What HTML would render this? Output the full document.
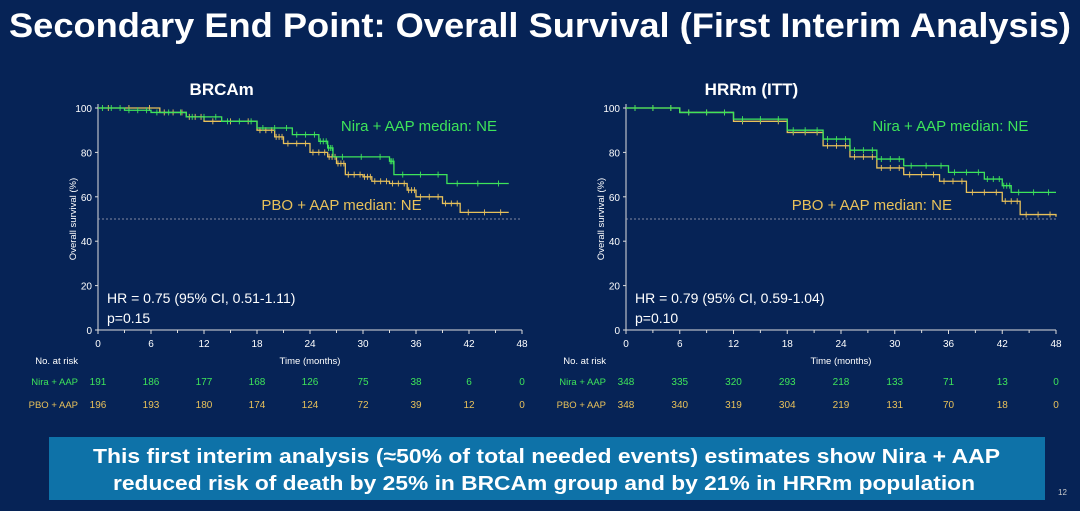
<!DOCTYPE html>
<html><head><meta charset="utf-8"><style>
body{margin:0;width:1080px;height:506px;background:#062356;overflow:hidden;font-family:"Liberation Sans",sans-serif}
</style></head><body>
<svg id="s" width="1080" height="506" xmlns="http://www.w3.org/2000/svg" font-family="Liberation Sans, sans-serif">
<text x="9" y="37" fill="#fff" font-size="34" font-weight="bold" textLength="1062" lengthAdjust="spacingAndGlyphs">Secondary End Point: Overall Survival (First Interim Analysis)</text>
<rect x="49" y="437" width="996" height="63" fill="#0e72a8"/>
<text x="93" y="463" fill="#fff" font-size="20" font-weight="bold" textLength="907" lengthAdjust="spacingAndGlyphs">This first interim analysis (≈50% of total needed events) estimates show Nira + AAP</text>
<text x="113" y="490" fill="#fff" font-size="20" font-weight="bold" textLength="862" lengthAdjust="spacingAndGlyphs">reduced risk of death by 25% in BRCAm group and by 21% in HRRm population</text>
<text x="1058" y="495" fill="#ccc" font-size="8">12</text>
<g id="g"></g>
</svg>
<script>
const G=document.getElementById('g');let h='';
function chart(x0,x1,title,hr,p,nira,pbo,rn,rp){
 const sx=m=>x0+(x1-x0)*m/48, sy=v=>330-2.22*v;
 h+=`<text x="${sx(14)}" y="95" fill="#fff" font-size="17" font-weight="bold" text-anchor="middle">${title}</text>`;
 h+=`<line x1="${x0}" y1="104" x2="${x0}" y2="330" stroke="#ddd"/><line x1="${x0}" y1="330" x2="${x1}" y2="330" stroke="#ddd"/>`;
 for(let v=0;v<=100;v+=20){h+=`<line x1="${x0-3}" y1="${sy(v)}" x2="${x0}" y2="${sy(v)}" stroke="#ddd"/><text x="${x0-6}" y="${sy(v)+4}" fill="#fff" font-size="10" text-anchor="end">${v}</text>`}
 for(let m=0;m<=48;m+=3){h+=`<line x1="${sx(m)}" y1="330" x2="${sx(m)}" y2="${m%6?333:334}" stroke="#ddd"/>`;if(m%6==0)h+=`<text x="${sx(m)}" y="347" fill="#fff" font-size="10" text-anchor="middle">${m}</text>`}
 h+=`<line x1="${x0}" y1="${sy(50)}" x2="${x1}" y2="${sy(50)}" stroke="#aab" stroke-dasharray="2,2" stroke-width="0.8"/>`;
 h+=`<text x="${x0-22}" y="219" fill="#fff" font-size="9.5" text-anchor="middle" transform="rotate(-90 ${x0-22} 219)">Overall survival (%)</text>`;
 h+=`<text x="${sx(24)}" y="364" fill="#fff" font-size="9.5" text-anchor="middle">Time (months)</text>`;
 function step(pts,c){let d=`M${sx(pts[0][0])},${sy(pts[0][1])}`;for(let i=1;i<pts.length;i++){d+=`H${sx(pts[i][0])}V${sy(pts[i][1])}`}
  h+=`<path d="${d}" fill="none" stroke="${c}" stroke-width="1.3"/>`;
  for(let i=1;i<pts.length;i++){const a=pts[i-1],b=pts[i];for(let k=0;k<3;k++){const m=a[0]+(b[0]-a[0])*(k+0.5)/3;h+=`<line x1="${sx(m)}" y1="${sy(a[1])-3}" x2="${sx(m)}" y2="${sy(a[1])+3}" stroke="${c}" stroke-width="0.9"/>`}}}
 step(pbo,'#e8c15a');step(nira,'#3ee45a');
 h+=`<text x="${sx(27.5)}" y="131" fill="#3ee45a" font-size="15">Nira + AAP median: NE</text>`;
 h+=`<text x="${sx(18.5)}" y="210" fill="#e8c15a" font-size="15">PBO + AAP median: NE</text>`;
 h+=`<text x="${x0+9}" y="303" fill="#fff" font-size="14">${hr}</text><text x="${x0+9}" y="323" fill="#fff" font-size="14">${p}</text>`;
 h+=`<text x="${x0-20}" y="364" fill="#fff" font-size="9.5" text-anchor="end">No. at risk</text>`;
 h+=`<text x="${x0-20}" y="385" fill="#3ee45a" font-size="9.5" text-anchor="end">Nira + AAP</text><text x="${x0-20}" y="408" fill="#e8c15a" font-size="9.5" text-anchor="end">PBO + AAP</text>`;
 for(let i=0;i<9;i++){h+=`<text x="${sx(i*6)}" y="385" fill="#3ee45a" font-size="10" text-anchor="middle">${rn[i]}</text><text x="${sx(i*6)}" y="408" fill="#e8c15a" font-size="10" text-anchor="middle">${rp[i]}</text>`}
}
chart(98,522,'BRCAm','HR = 0.75 (95% CI, 0.51-1.11)','p=0.15',
[[0,100],[3,99],[6,98],[10,96],[14,94],[18,91],[22,88],[25,85],[26,82],[26.6,78],[33,76],[33.5,70],[39.5,66],[46.5,66]],
[[0,100],[7,98],[10,96],[12,94],[18,90],[20,87],[21,84],[24,80],[26,78],[27,75],[28,70],[30,69],[31,67],[33,66],[35,63],[36,60],[39,57],[41,53],[46.5,53]],
[191,186,177,168,126,75,38,6,0],[196,193,180,174,124,72,39,12,0]);
chart(626,1056,'HRRm (ITT)','HR = 0.79 (95% CI, 0.59-1.04)','p=0.10',
[[0,100],[6,98],[12,95],[18,90],[22,86],[25,81],[28,77],[31,74],[36,71],[40,68],[42,65],[43,62],[48,62]],
[[0,100],[6,98],[12,94],[18,89],[22,83],[25,78],[28,73],[31,70],[35,67],[38,62],[42,58],[44,52],[48,51]],
[348,335,320,293,218,133,71,13,0],[348,340,319,304,219,131,70,18,0]);
G.innerHTML=h;
</script>
</body></html>
